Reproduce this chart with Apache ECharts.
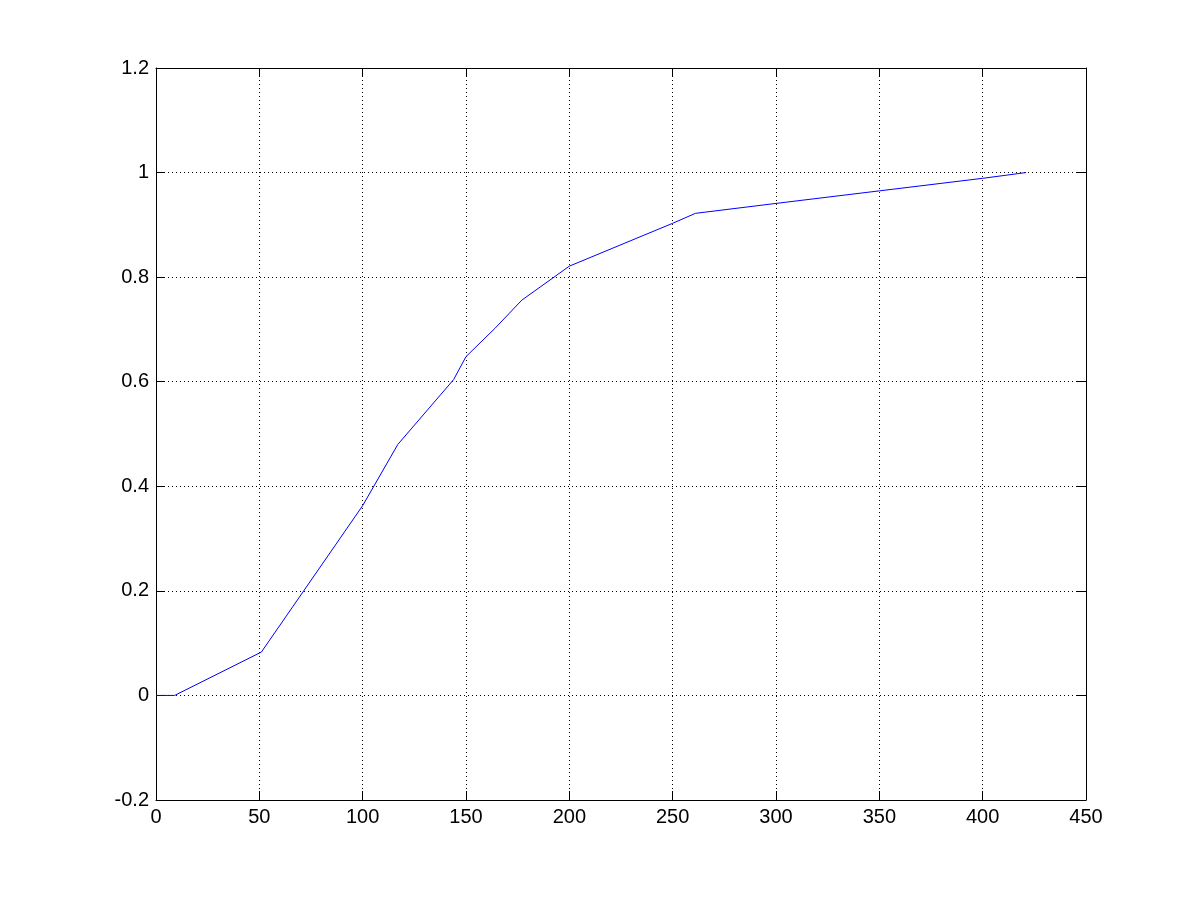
<!DOCTYPE html>
<html>
<head>
<meta charset="utf-8">
<script src="https://cdn.jsdelivr.net/npm/echarts@6/dist/echarts.min.js"></script>
<style>html,body{margin:0;padding:0;background:#fff}#c{width:1200px;height:900px}</style>
</head>
<body>
<div id="c"></div>
<script>
const xValues = [0, 9, 51, 100, 117, 144, 150, 164, 177, 200, 250, 261, 300, 350, 400, 421];
const yValues = [0, 0, 0.083, 0.363, 0.48, 0.604, 0.648, 0.702, 0.756, 0.821, 0.903, 0.922, 0.941, 0.965, 0.989, 1.0];
const xTicks = [0, 50, 100, 150, 200, 250, 300, 350, 400, 450];
const yTicks = [-0.2, 0, 0.2, 0.4, 0.6, 0.8, 1, 1.2];

const chart = echarts.init(document.getElementById('c'), null, {renderer: 'canvas'});
const fontFamily = '"Liberation Sans", Arial, Helvetica, sans-serif';
const fmt = v => String(Math.round(v * 10) / 10);
const lineStyle = {color: '#000', width: 1};
const base = {
  axisLine: {show: true, lineStyle: lineStyle, onZero: false},
  axisTick: {show: true, inside: true, length: 9, lineStyle: lineStyle},
};
chart.setOption({
  animation: false,
  backgroundColor: '#fff',
  grid: {left: 156, right: 114, top: 68, bottom: 100, containLabel: false},
  xAxis: [
    Object.assign({
      type: 'value', min: xTicks[0], max: xTicks[xTicks.length - 1], interval: 50,
      axisLabel: {color: '#000', fontSize: 20, fontFamily: fontFamily, margin: 7, formatter: fmt},
      splitLine: {show: true, lineStyle: {color: '#000', width: 1, type: [1, 3]}}
    }, base),
    Object.assign({
      type: 'value', position: 'top', min: xTicks[0], max: xTicks[xTicks.length - 1], interval: 50,
      axisLabel: {show: false}, splitLine: {show: false}
    }, base)
  ],
  yAxis: [
    Object.assign({
      type: 'value', min: yTicks[0], max: yTicks[yTicks.length - 1], interval: 0.2,
      axisLabel: {color: '#000', fontSize: 20, fontFamily: fontFamily, margin: 7, formatter: fmt},
      splitLine: {show: true, lineStyle: {color: '#000', width: 1, type: [1, 3]}}
    }, base),
    Object.assign({
      type: 'value', position: 'right', min: yTicks[0], max: yTicks[yTicks.length - 1], interval: 0.2,
      axisLabel: {show: false}, splitLine: {show: false}
    }, base)
  ],
  series: [{
    type: 'line',
    data: xValues.map((x, i) => [x, yValues[i]]),
    showSymbol: false,
    symbol: 'none',
    clip: false,
    lineStyle: {color: '#0000ff', width: 1},
    xAxisIndex: 0, yAxisIndex: 0
  }]
});
</script>
</body>
</html>
